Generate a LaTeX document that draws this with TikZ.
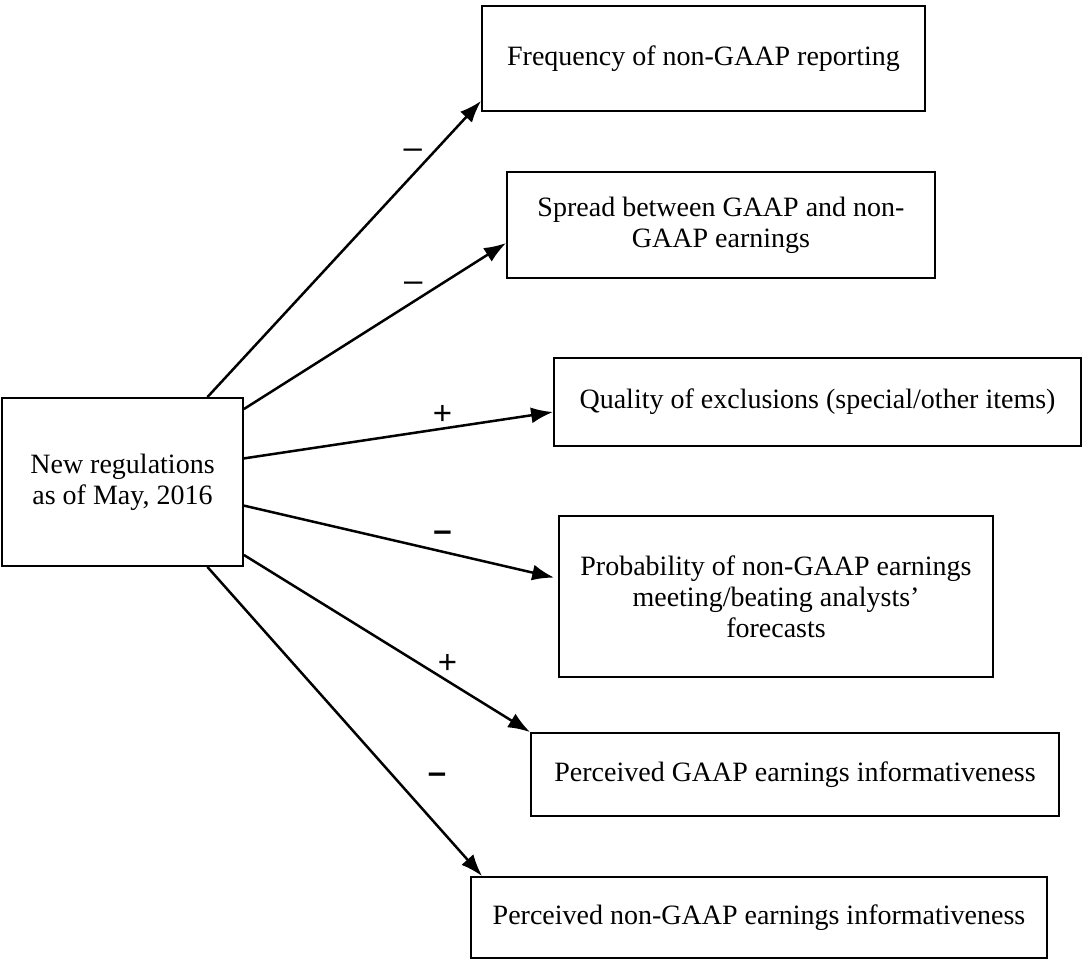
\documentclass[tikz,border=0pt]{standalone}
\usepackage{fontspec}
\setmainfont{Liberation Serif}
\newfontfamily\signfont{Liberation Sans}
\usetikzlibrary{arrows.meta}

\begin{document}
\begin{tikzpicture}[x=1pt,y=-1pt]
        \tikzset{box/.style = {draw, line width=1.8pt, align=center, inner sep=0pt, font=\fontsize{28}{31}\selectfont}}
        \tikzset{edge/.style = {-{Latex[length=22pt,width=16pt]}, line width=2.5pt}}
        \tikzset{sign/.style = {inner sep=0pt, font=\fontsize{33}{33}\selectfont\signfont}}
        \useasboundingbox (0,0) rectangle (1083,962);
        % vertices
        \node[box, minimum width=241pt, minimum height=168pt] (reg) at (122.5,482) {New regulations\\as of May, 2016};
        \node[box, minimum width=443pt, minimum height=105pt] (freq) at (703.5,58.5) {Frequency of non-GAAP reporting};
        \node[box, minimum width=428pt, minimum height=106pt] (spread) at (721,225) {Spread between GAAP and non-\\GAAP earnings};
        \node[box, minimum width=527pt, minimum height=88pt] (qual) at (817.5,402) {Quality of exclusions (special/other items)};
        \node[box, minimum width=434pt, minimum height=161pt] (prob) at (776,596.5) {Probability of non-GAAP earnings\\meeting/beating analysts’\\forecasts};
        \node[box, minimum width=528pt, minimum height=83pt] (gaap) at (795,774.5) {Perceived GAAP earnings informativeness};
        \node[box, minimum width=576pt, minimum height=81pt] (ngaap) at (759,917.5) {Perceived non-GAAP earnings informativeness};

        %edges
        \draw[edge] (reg.45) to node[sign, pos=0.75, yshift=21pt] (m1) {–} ([yshift=11pt]freq.south west);
        \draw[edge] (reg.31) to node[sign, pos=0.646, yshift=15pt] (m2) {–} ([yshift=-18pt]spread.west);
        \draw[edge] (reg.11) to node[sign, pos=0.642, yshift=14pt] (p3) {+} ([yshift=-10pt]qual.west);
        \draw[edge, shorten >=4pt] (reg.-11) to node[sign, pos=0.632, yshift=15pt] (m4) {\bfseries –} ([yshift=18pt]prob.west);
        \draw[edge] (reg.-31) to node[sign, pos=0.711, yshift=17pt] (p5) {+} (gaap.north west);
        \draw[edge] (reg.-45) to node[sign, pos=0.683, xshift=42pt] (m6) {\bfseries –} ([xshift=12pt]ngaap.north west);
\end{tikzpicture}
\end{document}
